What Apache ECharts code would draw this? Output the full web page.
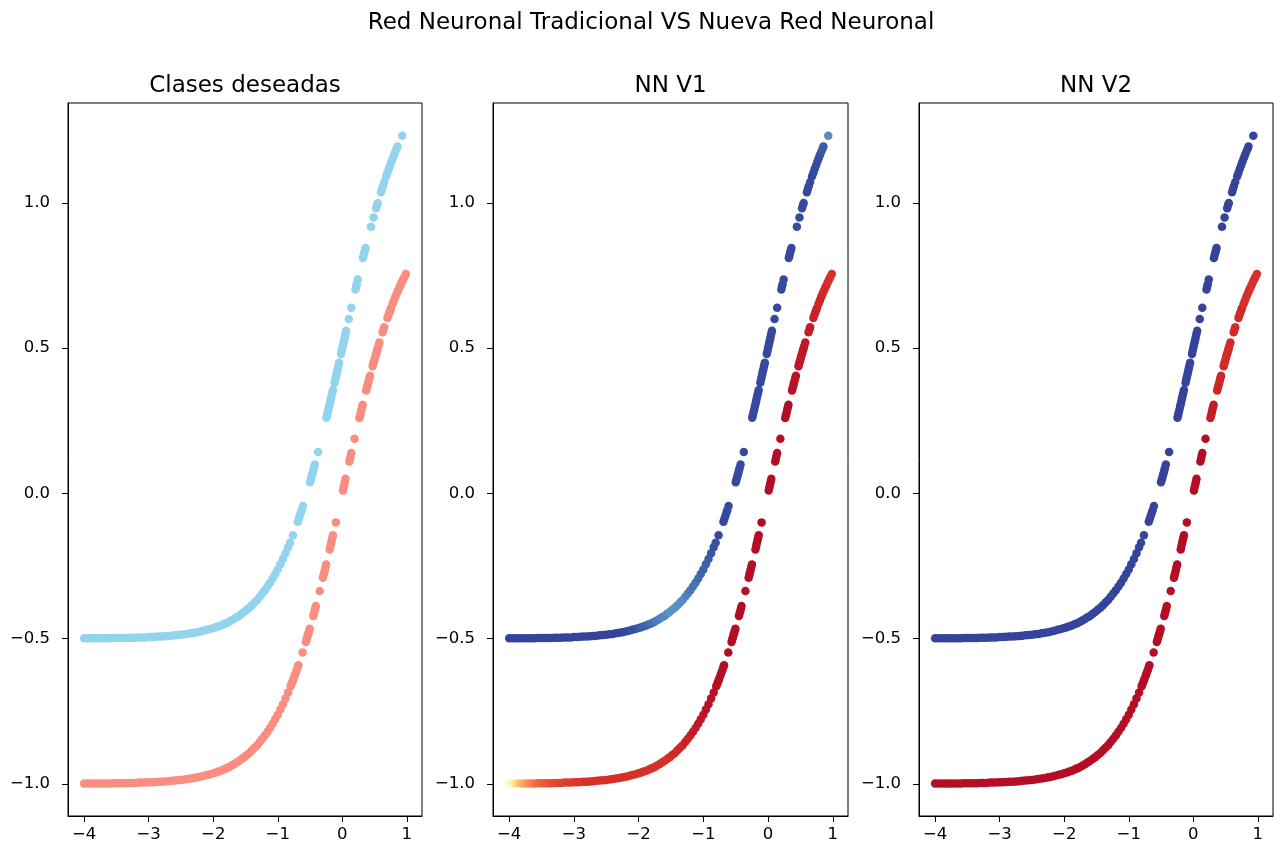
<!DOCTYPE html>
<html>
<head>
<meta charset="utf-8">
<script src="https://cdn.jsdelivr.net/npm/echarts@6/dist/echarts.min.js"></script>
<style>
html,body{margin:0;padding:0;background:#fff;}
#chart{width:1281px;height:846px;}
</style>
</head>
<body>
<div id="chart"></div>
<script>
// ---- data ----
const suptitle = 'Red Neuronal Tradicional VS Nueva Red Neuronal';
const panelTitles = ['Clases deseadas', 'NN V1', 'NN V2'];
const xTicks = [-4, -3, -2, -1, 0, 1];
const yTicks = [-1.0, -0.5, 0.0, 0.5, 1.0];

// class 1 (upper curve)
const upperX = [
  -4.00,-3.95,-3.90,-3.85,-3.80,-3.75,-3.70,-3.65,-3.60,-3.55,-3.50,-3.45,-3.40,-3.35,-3.30,-3.25,-3.20,-3.15,-3.10,-3.05,
  -3.00,-2.95,-2.90,-2.85,-2.80,-2.75,-2.70,-2.65,-2.60,-2.55,-2.50,-2.45,-2.40,-2.35,-2.30,-2.25,-2.20,-2.15,-2.10,-2.05,-2.00,
  -1.96,-1.92,-1.88,-1.84,-1.80,-1.76,-1.72,-1.68,-1.64,-1.60,-1.56,-1.52,-1.48,-1.44,-1.40,-1.36,-1.32,-1.28,-1.24,-1.20,
  -1.16,-1.12,-1.08,-1.04,-1.00,-0.96,-0.92,-0.88,-0.84,
  -0.81,-0.765,
  -0.69,-0.675,-0.66,-0.645,-0.63,-0.61,
  -0.50,-0.49,-0.48,-0.47,-0.46,-0.45,-0.44,-0.425,
  -0.375,
  -0.245,-0.235,-0.225,-0.215,-0.205,-0.195,-0.185,-0.175,-0.165,-0.155,-0.145,
  -0.12,-0.11,-0.10,-0.09,-0.08,-0.07,-0.06,-0.05,
  -0.02,-0.01,0.00,0.01,0.02,0.03,0.04,0.05,0.06,
  0.10,0.14,
  0.205,0.215,0.225,0.24,
  0.32,0.33,0.34,0.35,0.36,
  0.445,0.485,
  0.525,0.54,0.55,
  0.60,0.615,0.63,0.65,
  0.68,0.70,0.72,0.74,0.76,0.78,0.80,0.82,0.84,0.855,
  0.93];
const upperY = [
  -0.499,-0.499,-0.499,-0.499,-0.499,-0.499,-0.499,-0.499,-0.499,-0.498,-0.498,-0.498,-0.498,-0.498,-0.497,-0.497,-0.497,-0.496,-0.496,-0.496,
  -0.495,-0.495,-0.494,-0.493,-0.493,-0.492,-0.491,-0.490,-0.489,-0.488,-0.487,-0.485,-0.484,-0.482,-0.480,-0.478,-0.476,-0.473,-0.470,-0.467,-0.464,
  -0.461,-0.458,-0.455,-0.451,-0.447,-0.443,-0.438,-0.433,-0.427,-0.422,-0.415,-0.409,-0.401,-0.394,-0.385,-0.376,-0.367,-0.356,-0.345,-0.334,
  -0.321,-0.308,-0.293,-0.278,-0.262,-0.244,-0.226,-0.206,-0.186,
  -0.170,-0.144,
  -0.098,-0.088,-0.078,-0.068,-0.058,-0.044,
  0.038,0.046,0.054,0.062,0.070,0.078,0.086,0.099,
  0.142,
  0.260,0.269,0.279,0.288,0.298,0.307,0.317,0.327,0.337,0.346,0.356,
  0.381,0.390,0.400,0.410,0.420,0.430,0.440,0.450,
  0.480,0.490,0.500,0.510,0.520,0.530,0.540,0.550,0.560,
  0.600,0.639,
  0.702,0.712,0.721,0.736,
  0.810,0.819,0.828,0.836,0.845,
  0.918,0.950,
  0.982,0.993,1.000,
  1.037,1.048,1.058,1.072,
  1.092,1.104,1.117,1.129,1.141,1.153,1.164,1.175,1.186,1.194,
  1.231];

// class 0 (lower curve)
const lowerX = [
  -4.00,-3.95,-3.90,-3.85,-3.80,-3.75,-3.70,-3.65,-3.60,-3.55,-3.50,-3.45,-3.40,-3.35,-3.30,-3.25,-3.20,-3.15,-3.10,-3.05,
  -3.00,-2.95,-2.90,-2.85,-2.80,-2.75,-2.70,-2.65,-2.60,-2.55,-2.50,-2.45,-2.40,-2.35,-2.30,-2.25,-2.20,-2.15,-2.10,-2.05,-2.00,
  -1.96,-1.92,-1.88,-1.84,-1.80,-1.76,-1.72,-1.68,-1.64,-1.60,-1.56,-1.52,-1.48,-1.44,-1.40,-1.36,-1.32,-1.28,-1.24,-1.20,
  -1.16,-1.12,-1.08,-1.04,-1.00,-0.96,-0.92,-0.88,-0.84,
  -0.80,-0.785,-0.77,-0.755,
  -0.735,-0.72,-0.705,-0.69,-0.68,
  -0.615,
  -0.565,-0.555,-0.545,-0.535,-0.525,-0.515,-0.505,
  -0.45,-0.44,-0.43,-0.42,-0.41,
  -0.35,
  -0.30,-0.29,-0.28,-0.27,-0.26,-0.25,
  -0.195,-0.185,-0.175,-0.165,-0.155,-0.145,
  -0.10,
  0.01,0.02,0.03,0.04,0.05,
  0.11,0.12,0.13,0.14,
  0.19,
  0.265,0.275,0.285,0.295,0.305,0.315,
  0.37,0.38,0.39,0.40,0.41,0.42,0.43,
  0.47,0.48,0.49,0.50,0.51,0.52,0.53,0.54,0.55,0.56,0.575,
  0.625,0.64,0.65,
  0.70,0.715,0.73,0.745,0.755,
  0.78,0.80,0.82,0.84,0.86,0.88,0.90,0.92,0.94,0.96,0.985];
const lowerY = [
  -0.999,-0.999,-0.999,-0.999,-0.999,-0.999,-0.999,-0.999,-0.999,-0.998,-0.998,-0.998,-0.998,-0.998,-0.997,-0.997,-0.997,-0.996,-0.996,-0.996,
  -0.995,-0.995,-0.994,-0.993,-0.993,-0.992,-0.991,-0.990,-0.989,-0.988,-0.987,-0.985,-0.984,-0.982,-0.980,-0.978,-0.976,-0.973,-0.970,-0.967,-0.964,
  -0.961,-0.958,-0.955,-0.951,-0.947,-0.943,-0.938,-0.933,-0.927,-0.922,-0.915,-0.909,-0.901,-0.894,-0.885,-0.876,-0.867,-0.856,-0.845,-0.834,
  -0.821,-0.808,-0.793,-0.778,-0.762,-0.744,-0.726,-0.706,-0.686,
  -0.664,-0.656,-0.647,-0.638,
  -0.626,-0.617,-0.608,-0.598,-0.592,
  -0.548,
  -0.512,-0.504,-0.497,-0.489,-0.482,-0.474,-0.466,
  -0.422,-0.414,-0.405,-0.397,-0.388,
  -0.336,
  -0.291,-0.282,-0.273,-0.264,-0.254,-0.245,
  -0.193,-0.183,-0.173,-0.163,-0.154,-0.144,
  -0.100,
  0.010,0.020,0.030,0.040,0.050,
  0.110,0.119,0.129,0.139,
  0.188,
  0.259,0.268,0.277,0.287,0.296,0.305,
  0.354,0.363,0.371,0.380,0.388,0.397,0.405,
  0.438,0.446,0.454,0.462,0.470,0.478,0.485,0.493,0.500,0.508,0.519,
  0.555,0.565,0.572,
  0.604,0.614,0.623,0.632,0.638,
  0.653,0.664,0.675,0.686,0.696,0.706,0.716,0.726,0.735,0.744,0.755];

// network outputs, used as colour value on the RdYlBu colormap (0 = red, 1 = blue)
const v1Upper = [
  0.98,0.98,0.98,0.98,0.98,0.98,0.98,0.98,0.98,0.98,0.98,0.98,0.98,0.98,0.98,0.98,0.98,0.98,0.98,0.98,
  0.98,0.98,0.98,0.98,0.98,0.98,0.98,0.98,0.98,0.98,0.98,0.98,0.98,0.98,0.98,0.98,0.97,0.97,0.96,0.96,0.95,
  0.94,0.93,0.93,0.92,0.91,0.90,0.89,0.88,0.87,0.87,0.86,0.85,0.85,0.85,0.85,0.86,0.86,0.87,0.88,0.89,
  0.90,0.90,0.91,0.92,0.93,0.93,0.94,0.95,0.96,
  0.96,0.97,
  0.97,0.97,0.97,0.97,0.97,0.97,
  0.97,0.97,0.97,0.97,0.97,0.97,0.97,0.97,
  0.97,
  0.97,0.97,0.97,0.97,0.97,0.97,0.97,0.97,0.97,0.97,0.97,
  0.97,0.97,0.97,0.97,0.97,0.97,0.97,0.97,
  0.97,0.97,0.97,0.97,0.97,0.97,0.97,0.97,0.97,
  0.97,0.97,
  0.97,0.97,0.97,0.97,
  0.97,0.97,0.97,0.97,0.97,
  0.97,0.97,
  0.97,0.97,0.97,
  0.97,0.97,0.97,0.97,
  0.97,0.97,0.97,0.97,0.97,0.97,0.96,0.95,0.94,0.94,
  0.86];
const v1Lower = [
  0.55,0.47,0.41,0.35,0.31,0.28,0.25,0.23,0.21,0.19,0.18,0.17,0.16,0.15,0.14,0.14,0.13,0.13,0.12,0.12,
  0.12,0.11,0.11,0.11,0.10,0.10,0.10,0.10,0.10,0.10,0.10,0.10,0.10,0.10,0.10,0.10,0.10,0.10,0.10,0.10,0.10,
  0.10,0.10,0.10,0.10,0.10,0.10,0.10,0.10,0.10,0.10,0.10,0.10,0.09,0.09,0.09,0.08,0.08,0.07,0.07,0.07,
  0.06,0.06,0.05,0.05,0.05,0.04,0.04,0.04,0.04,
  0.03,0.03,0.03,0.03,
  0.03,0.03,0.03,0.03,0.03,
  0.03,
  0.03,0.03,0.03,0.03,0.03,0.03,0.03,
  0.03,0.03,0.03,0.03,0.03,
  0.03,
  0.03,0.03,0.03,0.03,0.03,0.03,
  0.03,0.03,0.03,0.03,0.03,0.03,
  0.03,
  0.03,0.03,0.03,0.03,0.03,
  0.03,0.03,0.03,0.03,
  0.03,
  0.03,0.03,0.03,0.03,0.03,0.03,
  0.04,0.04,0.04,0.04,0.04,0.04,0.04,
  0.05,0.05,0.05,0.05,0.05,0.05,0.05,0.05,0.05,0.05,0.05,
  0.06,0.06,0.06,
  0.07,0.07,0.07,0.07,0.07,
  0.08,0.08,0.08,0.09,0.09,0.09,0.09,0.10,0.10,0.10,0.10];
const v2Upper = [
  0.98,0.98,0.98,0.98,0.98,0.98,0.98,0.98,0.98,0.98,0.98,0.98,0.98,0.98,0.98,0.98,0.98,0.98,0.98,0.98,
  0.98,0.98,0.98,0.98,0.98,0.98,0.98,0.98,0.98,0.98,0.98,0.98,0.98,0.98,0.98,0.98,0.98,0.98,0.98,0.98,0.98,
  0.98,0.98,0.98,0.98,0.98,0.98,0.98,0.98,0.98,0.98,0.98,0.98,0.98,0.98,0.98,0.98,0.98,0.98,0.98,0.98,
  0.98,0.98,0.98,0.98,0.98,0.98,0.98,0.98,0.98,
  0.98,0.98,
  0.98,0.98,0.98,0.98,0.98,0.98,
  0.98,0.98,0.98,0.98,0.98,0.98,0.98,0.98,
  0.98,
  0.98,0.98,0.98,0.98,0.98,0.98,0.98,0.98,0.98,0.98,0.98,
  0.98,0.98,0.98,0.98,0.98,0.98,0.98,0.98,
  0.98,0.98,0.98,0.98,0.98,0.98,0.98,0.98,0.98,
  0.98,0.98,
  0.98,0.98,0.98,0.98,
  0.98,0.98,0.98,0.98,0.98,
  0.98,0.98,
  0.98,0.98,0.98,
  0.98,0.98,0.98,0.98,
  0.98,0.98,0.98,0.98,0.98,0.98,0.98,0.98,0.98,0.98,
  0.98];
const v2Lower = [
  0.03,0.03,0.03,0.03,0.03,0.03,0.03,0.03,0.03,0.03,0.03,0.03,0.03,0.03,0.03,0.03,0.03,0.03,0.03,0.03,
  0.03,0.03,0.03,0.03,0.03,0.03,0.03,0.03,0.03,0.03,0.03,0.03,0.03,0.03,0.03,0.03,0.03,0.03,0.03,0.03,0.03,
  0.03,0.03,0.03,0.03,0.03,0.03,0.03,0.03,0.03,0.03,0.03,0.03,0.03,0.03,0.03,0.03,0.03,0.03,0.03,0.03,
  0.03,0.03,0.03,0.03,0.03,0.03,0.03,0.03,0.03,
  0.03,0.03,0.03,0.03,
  0.03,0.03,0.03,0.03,0.03,
  0.03,
  0.03,0.03,0.03,0.03,0.03,0.03,0.03,
  0.03,0.03,0.03,0.03,0.03,
  0.03,
  0.03,0.03,0.03,0.03,0.03,0.03,
  0.03,0.03,0.03,0.03,0.03,0.03,
  0.03,
  0.03,0.03,0.03,0.03,0.03,
  0.03,0.03,0.03,0.03,
  0.03,
  0.06,0.06,0.06,0.06,0.06,0.06,
  0.08,0.08,0.08,0.08,0.08,0.08,0.08,
  0.09,0.09,0.09,0.09,0.09,0.09,0.09,0.09,0.09,0.09,0.09,
  0.09,0.09,0.09,
  0.09,0.09,0.09,0.09,0.09,
  0.10,0.10,0.10,0.10,0.10,0.10,0.10,0.10,0.10,0.10,0.10];

// ---- chart ----
const RdYlBu = ['#a50026','#d73027','#f46d43','#fdae61','#fee090','#ffffbf','#e0f3f8','#abd9e9','#74add1','#4575b4','#313695'];
const FONT = "'DejaVu Sans', 'Liberation Sans', sans-serif";
const minus = s => String(s).replace('-', '\u2212');

function pts(xs, ys, vs) {
  return xs.map((x, i) => vs ? [x, ys[i], (vs[i] === undefined ? vs[vs.length - 1] : vs[i])] : [x, ys[i]]);
}

const grids = [
  {left: 68, top: 103, width: 354, height: 713},
  {left: 493, top: 103, width: 355, height: 713},
  {left: 919, top: 103, width: 354, height: 713}
].map(g => Object.assign({show: true, borderColor: '#000', borderWidth: 1, backgroundColor: '#fff'}, g));

const xAxes = [0, 1, 2].map(i => ({
  type: 'value', gridIndex: i, min: -4.25, max: 1.235,
  splitLine: {show: false},
  axisLine: {show: true, onZero: false, lineStyle: {color: '#000', width: 1}},
  axisTick: {show: true, inside: false, length: 6, customValues: xTicks, lineStyle: {color: '#000', width: 1}},
  axisLabel: {show: true, customValues: xTicks, margin: 10, color: '#000', fontSize: 16.5, fontFamily: FONT,
    formatter: v => minus(Math.round(v))}
}));
const yAxes = [0, 1, 2].map(i => ({
  type: 'value', gridIndex: i, min: -1.111, max: 1.344,
  splitLine: {show: false},
  axisLine: {show: true, onZero: false, lineStyle: {color: '#000', width: 1}},
  axisTick: {show: true, inside: false, length: 6, customValues: yTicks, lineStyle: {color: '#000', width: 1}},
  axisLabel: {show: true, customValues: yTicks, margin: 18, color: '#000', fontSize: 16.5, fontFamily: FONT,
    formatter: v => minus(Number(v).toFixed(1))}
}));

const SZ = 8.5;
const base = {type: 'scatter', symbol: 'circle', symbolSize: SZ, animation: false, silent: true};
const series = [
  Object.assign({}, base, {xAxisIndex: 0, yAxisIndex: 0, data: pts(upperX, upperY), itemStyle: {color: '#92d3ee', opacity: 1}}),
  Object.assign({}, base, {xAxisIndex: 0, yAxisIndex: 0, data: pts(lowerX, lowerY), itemStyle: {color: '#fa8d80', opacity: 1}}),
  Object.assign({}, base, {xAxisIndex: 1, yAxisIndex: 1, data: pts(upperX, upperY, v1Upper), itemStyle: {opacity: 1}}),
  Object.assign({}, base, {xAxisIndex: 1, yAxisIndex: 1, data: pts(lowerX, lowerY, v1Lower), itemStyle: {opacity: 1}}),
  Object.assign({}, base, {xAxisIndex: 2, yAxisIndex: 2, data: pts(upperX, upperY, v2Upper), itemStyle: {opacity: 1}}),
  Object.assign({}, base, {xAxisIndex: 2, yAxisIndex: 2, data: pts(lowerX, lowerY, v2Lower), itemStyle: {opacity: 1}})
];

const titleText = (text, x, y) => ({
  type: 'text', x: x, y: y, silent: true,
  style: {text: text, fill: '#000', font: "23px " + FONT, textAlign: 'center', textVerticalAlign: 'middle', align: 'center', verticalAlign: 'middle'}
});

const chart = echarts.init(document.getElementById('chart'), null, {renderer: 'canvas'});
chart.setOption({
  backgroundColor: '#fff',
  animation: false,
  grid: grids,
  xAxis: xAxes,
  yAxis: yAxes,
  visualMap: {type: 'continuous', show: false, seriesIndex: [2, 3, 4, 5], dimension: 2, min: 0, max: 1,
    inRange: {color: RdYlBu}},
  series: series,
  graphic: [
    titleText(suptitle, 651, 23),
    titleText(panelTitles[0], 245, 86),
    titleText(panelTitles[1], 670.5, 86),
    titleText(panelTitles[2], 1096, 86)
  ]
});
</script>
</body>
</html>
